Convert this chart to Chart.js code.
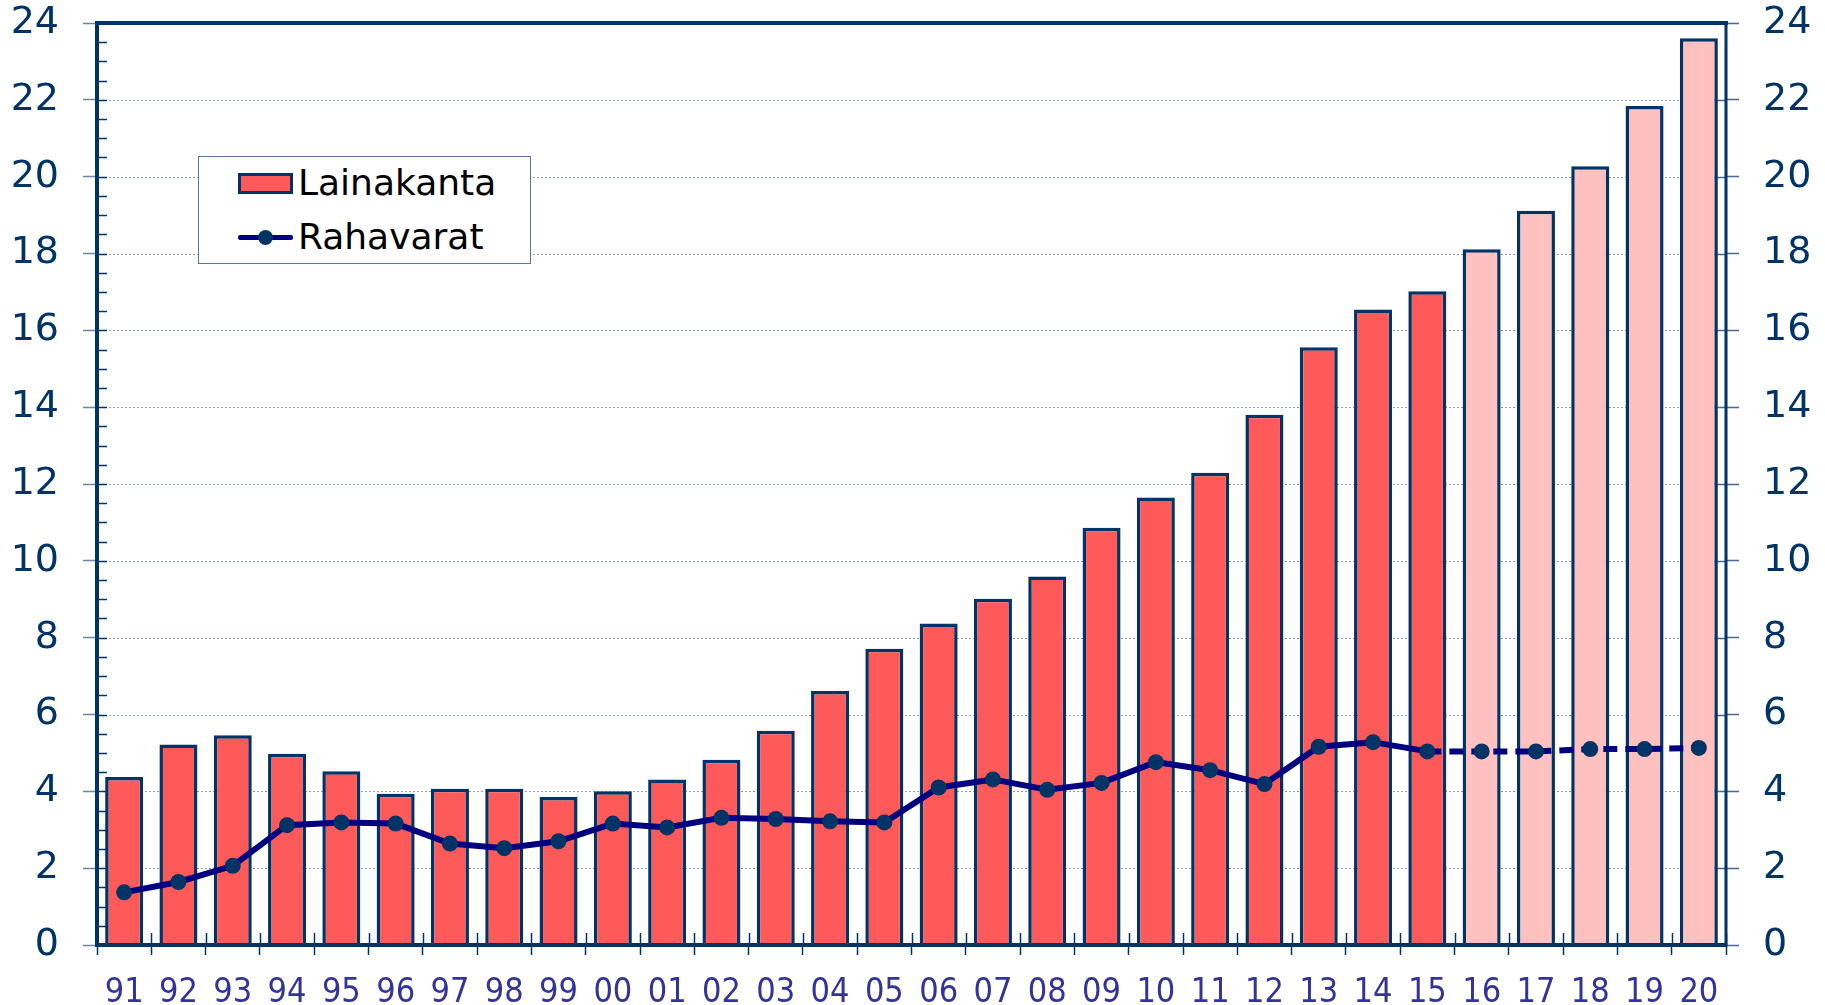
<!DOCTYPE html>
<html>
<head>
<meta charset="utf-8">
<script src="https://cdn.jsdelivr.net/npm/chart.js@4.4.0/dist/chart.umd.min.js"></script>
<style>
  html, body { margin: 0; padding: 0; background: #ffffff; }
  #wrap { position: relative; width: 1825px; height: 1005px; }
  #legend {
    position: absolute; left: 198px; top: 156px; width: 331px; height: 106px;
    border: 1px solid #5a76a0; background: #ffffff; box-sizing: content-box;
    font-family: "DejaVu Sans", Verdana, sans-serif; font-size: 36px; color: #000;
  }
  .item { position: absolute; left: 0; height: 44px; display: flex; align-items: center; }
  .sw-bar { position: absolute; left: 39px; width: 49px; height: 15px; background: #FF5A5A; border: 3px solid #003366; }
  .sw-line { position: absolute; left: 39px; width: 55px; height: 5px; background: #000080; border-radius: 2px; }
  .sw-dot { position: absolute; left: 59px; width: 15px; height: 15px; border-radius: 50%; background: #003366; }
  .lbl { position: absolute; left: 99px; white-space: nowrap; line-height: 44px; }
</style>
</head>
<body>
<div id="wrap">
  <canvas id="c" width="1825" height="1005"></canvas>
  <div id="legend">
    <div class="item" style="top:4px;width:331px;">
      <div class="sw-bar" style="top:12px;"></div>
      <div class="lbl" style="top:0;">Lainakanta</div>
    </div>
    <div class="item" style="top:58px;width:331px;">
      <div class="sw-line" style="top:20px;"></div>
      <div class="sw-dot" style="top:15px;"></div>
      <div class="lbl" style="top:0;">Rahavarat</div>
    </div>
  </div>
</div>
<script>
// ---- data ----
const years = ["91","92","93","94","95","96","97","98","99","00","01","02","03","04","05","06","07","08","09","10","11","12","13","14","15","16","17","18","19","20"];
const lainakanta = [4.37,5.22,5.46,4.98,4.52,3.94,4.07,4.07,3.85,4.00,4.31,4.82,5.58,6.61,7.71,8.37,9.01,9.59,10.86,11.65,12.29,13.80,15.56,16.54,17.02,18.11,19.11,20.27,21.84,23.60];
const rahavarat = [1.37,1.64,2.06,3.12,3.19,3.16,2.64,2.52,2.70,3.16,3.06,3.31,3.28,3.22,3.19,4.10,4.31,4.04,4.22,4.76,4.55,4.19,5.16,5.28,5.04,5.04,5.04,5.10,5.10,5.13];
const firstForecast = "16";
const yTicks = [0,2,4,6,8,10,12,14,16,18,20,22,24];

const fcIdx = years.indexOf(firstForecast);
const navy = "#003366";

const decor = {
  id: "decor",
  beforeDatasetsDraw(chart) {
    const ctx = chart.ctx, a = chart.chartArea;
    const y = chart.scales.y, x = chart.scales.x;
    ctx.save();
    ctx.strokeStyle = "#8c9cb4"; ctx.lineWidth = 1; ctx.setLineDash([2,2]);
    yTicks.forEach(v => {
      if (v === 0 || v === 24) return;
      const py = Math.round(y.getPixelForValue(v)) + 0.5;
      ctx.beginPath(); ctx.moveTo(a.left, py); ctx.lineTo(a.right, py); ctx.stroke();
    });
    ctx.setLineDash([]);
    ctx.strokeStyle = navy; ctx.lineWidth = 1.5;
    for (let v = 0; v <= 24; v += 0.5) {
      const py = Math.round(y.getPixelForValue(v)) + 0.5;
      ctx.beginPath(); ctx.moveTo(a.left, py); ctx.lineTo(a.left + 10, py); ctx.stroke();
    }
    ctx.strokeStyle = "#4a6590";
    yTicks.forEach(v => {
      const py = Math.round(y.getPixelForValue(v)) + 0.5;
      ctx.beginPath(); ctx.moveTo(a.right - 13, py); ctx.lineTo(a.right, py); ctx.stroke();
    });
    ctx.strokeStyle = navy;
    for (let i = 0; i <= years.length; i++) {
      const px = Math.round(x.getPixelForValue(i - 0.5)) + 0.5;
      ctx.beginPath(); ctx.moveTo(px, a.bottom); ctx.lineTo(px, a.bottom - 12); ctx.stroke();
    }
    ctx.restore();
  },
  afterDatasetsDraw(chart) {
    const ctx = chart.ctx, a = chart.chartArea;
    ctx.save();
    ctx.strokeStyle = navy; ctx.lineCap = "butt";
    ctx.lineWidth = 4;
    ctx.beginPath(); ctx.moveTo(a.left - 2, a.top); ctx.lineTo(a.right + 2, a.top); ctx.stroke();
    ctx.beginPath(); ctx.moveTo(a.left - 2, a.bottom); ctx.lineTo(a.right + 1, a.bottom); ctx.stroke();
    ctx.beginPath(); ctx.moveTo(a.left, a.top); ctx.lineTo(a.left, a.bottom + 2); ctx.stroke();
    ctx.lineWidth = 3;
    ctx.beginPath(); ctx.moveTo(a.right, a.top); ctx.lineTo(a.right, a.bottom + 2); ctx.stroke();
    ctx.restore();
  }
};

function fitY(width) {
  return s => { s.width = width; s.paddingTop = 0; s.paddingBottom = 0; };
}

new Chart(document.getElementById("c"), {
  data: {
    labels: years,
    datasets: [
      {
        type: "line",
        label: "Rahavarat",
        data: rahavarat,
        order: 0,
        borderColor: "#000080",
        borderWidth: 6,
        pointRadius: 8,
        pointBackgroundColor: navy,
        pointBorderColor: navy,
        pointBorderWidth: 0,
        tension: 0,
        segment: { borderDash: c => c.p0DataIndex >= fcIdx - 1 ? [14, 8] : undefined },
        yAxisID: "y"
      },
      {
        type: "bar",
        label: "Lainakanta",
        data: lainakanta,
        order: 1,
        backgroundColor: years.map((_, i) => i >= fcIdx ? "#FFC0C0" : "#FF5A5A"),
        borderColor: navy,
        borderWidth: 3.5,
        borderSkipped: "bottom",
        barPercentage: 0.7,
        categoryPercentage: 1.0,
        yAxisID: "y"
      }
    ]
  },
  options: {
    responsive: false,
    animation: false,
    devicePixelRatio: 1,
    layout: { padding: { top: 23, left: 0, right: 0, bottom: 0 } },
    plugins: { legend: { display: false }, tooltip: { enabled: false }, title: { display: false } },
    scales: {
      x: {
        type: "category",
        offset: true,
        grid: { offset: true, drawOnChartArea: false, drawTicks: true, tickLength: 10, tickColor: navy, tickWidth: 1.5 },
        border: { display: false },
        ticks: { color: "#333399", font: { family: "'DejaVu Sans Condensed', 'DejaVu Sans', sans-serif", size: 34 }, padding: 18, maxRotation: 0, autoSkip: false },
        afterFit: s => { s.height = 60; s.paddingLeft = 0; s.paddingRight = 0; }
      },
      y: {
        position: "left",
        min: 0, max: 24,
        afterBuildTicks: s => { s.ticks = yTicks.map(v => ({ value: v })); },
        grid: { drawOnChartArea: false, drawTicks: true, tickLength: 14, tickColor: "#6f86a6", tickWidth: 1.5 },
        border: { display: false },
        ticks: { color: navy, font: { family: "'DejaVu Sans', Verdana, sans-serif", size: 38 }, padding: 24 },
        afterFit: fitY(97)
      },
      y2: {
        position: "right",
        min: 0, max: 24,
        afterBuildTicks: s => { s.ticks = yTicks.map(v => ({ value: v })); },
        grid: { drawOnChartArea: false, drawTicks: true, tickLength: 13, tickColor: "#4a6590", tickWidth: 1.5 },
        border: { display: false },
        ticks: { color: navy, font: { family: "'DejaVu Sans', Verdana, sans-serif", size: 38 }, padding: 24 },
        afterFit: fitY(99)
      }
    }
  },
  plugins: [decor]
});
</script>
</body>
</html>
